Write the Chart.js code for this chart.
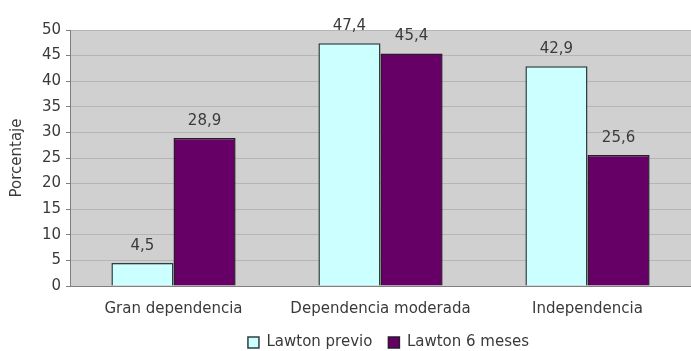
<!DOCTYPE html>
<html>
<head>
<meta charset="utf-8">
<script src="https://cdn.jsdelivr.net/npm/chart.js@4/dist/chart.umd.min.js"></script>
<style>
  html, body { margin: 0; padding: 0; background: #ffffff; }
  canvas { display: block; }
</style>
</head>
<body>
<canvas id="c" width="691" height="351"></canvas>
<script>
// Categories and series (percentages)
const categories = ['Gran dependencia', 'Dependencia moderada', 'Independencia'];
const lawtonPrevio = [4.5, 47.4, 42.9];
const lawton6Meses = [28.9, 45.4, 25.6];
const seriesNames = ['Lawton previo', 'Lawton 6 meses'];
const yAxisTitle = 'Porcentaje';

const FONT = "'DejaVu Sans', sans-serif";
const TEXT = '#3a3a3a';

// Grey plot-area background
const plotBackground = {
  id: 'plotBackground',
  beforeDraw(chart) {
    const { ctx, chartArea: a } = chart;
    ctx.save();
    ctx.fillStyle = '#d0d0d0';
    ctx.fillRect(a.left, a.top, a.right - a.left, a.bottom - a.top);
    ctx.restore();
  }
};

// Value labels above each bar, decimal comma
const valueLabels = {
  id: 'valueLabels',
  afterDatasetsDraw(chart) {
    const { ctx } = chart;
    ctx.save();
    ctx.font = '15px ' + FONT;
    ctx.fillStyle = TEXT;
    ctx.textAlign = 'center';
    ctx.textBaseline = 'middle';
    chart.data.datasets.forEach((ds, di) => {
      const meta = chart.getDatasetMeta(di);
      meta.data.forEach((bar, i) => {
        const txt = ds.data[i].toFixed(1).replace('.', ',');
        ctx.fillText(txt, bar.x, bar.y - 17);
      });
    });
    ctx.restore();
  }
};

// Place the legend under the plot area, near the bottom edge
const legendShift = {
  id: 'legendShift',
  afterLayout(chart) {
    const lg = chart.legend;
    if (!lg) return;
    const a = chart.chartArea;
    const dx = (a.left + a.right) / 2 + 8 - (lg.left + lg.right) / 2;
    lg.left += dx;
    lg.right += dx;
    lg.top -= 2;
    lg.bottom -= 2;
  }
};

new Chart(document.getElementById('c'), {
  type: 'bar',
  data: {
    labels: categories,
    datasets: [
      {
        label: seriesNames[0],
        data: lawtonPrevio,
        backgroundColor: '#ccffff',
        borderColor: '#2f3f3f',
        borderWidth: 1.5
      },
      {
        label: seriesNames[1],
        data: lawton6Meses,
        backgroundColor: '#660066',
        borderColor: '#2a1a2a',
        borderWidth: 1.5
      }
    ]
  },
  options: {
    responsive: false,
    animation: false,
    events: [],
    layout: { padding: { top: 30, right: 0, left: 0, bottom: 0 } },
    datasets: {
      bar: { categoryPercentage: 0.6, barPercentage: 1.0 }
    },
    scales: {
      x: {
        grid: { display: false },
        border: { display: true, color: '#808080', width: 1 },
        ticks: { color: TEXT, font: { family: FONT, size: 15 }, padding: 6 },
        afterFit(s) { s.height = 35; }
      },
      y: {
        min: 0,
        max: 50,
        ticks: { stepSize: 5, color: TEXT, font: { family: FONT, size: 15 }, padding: 5 },
        grid: { color: '#b5b5b5', tickLength: 4, tickColor: '#808080' },
        border: { display: true, color: '#808080', width: 1 },
        title: {
          display: true,
          text: yAxisTitle,
          color: TEXT,
          font: { family: FONT, size: 15 },
          padding: { top: 8, bottom: 0 }
        },
        afterFit(s) { s.width = 70; }
      }
    },
    plugins: {
      legend: {
        position: 'bottom',
        maxHeight: 30,
        labels: {
          color: TEXT,
          font: { family: FONT, size: 15 },
          boxWidth: 11,
          boxHeight: 11,
          padding: 16
        }
      },
      tooltip: { enabled: false }
    }
  },
  plugins: [plotBackground, valueLabels, legendShift]
});
</script>
</body>
</html>
